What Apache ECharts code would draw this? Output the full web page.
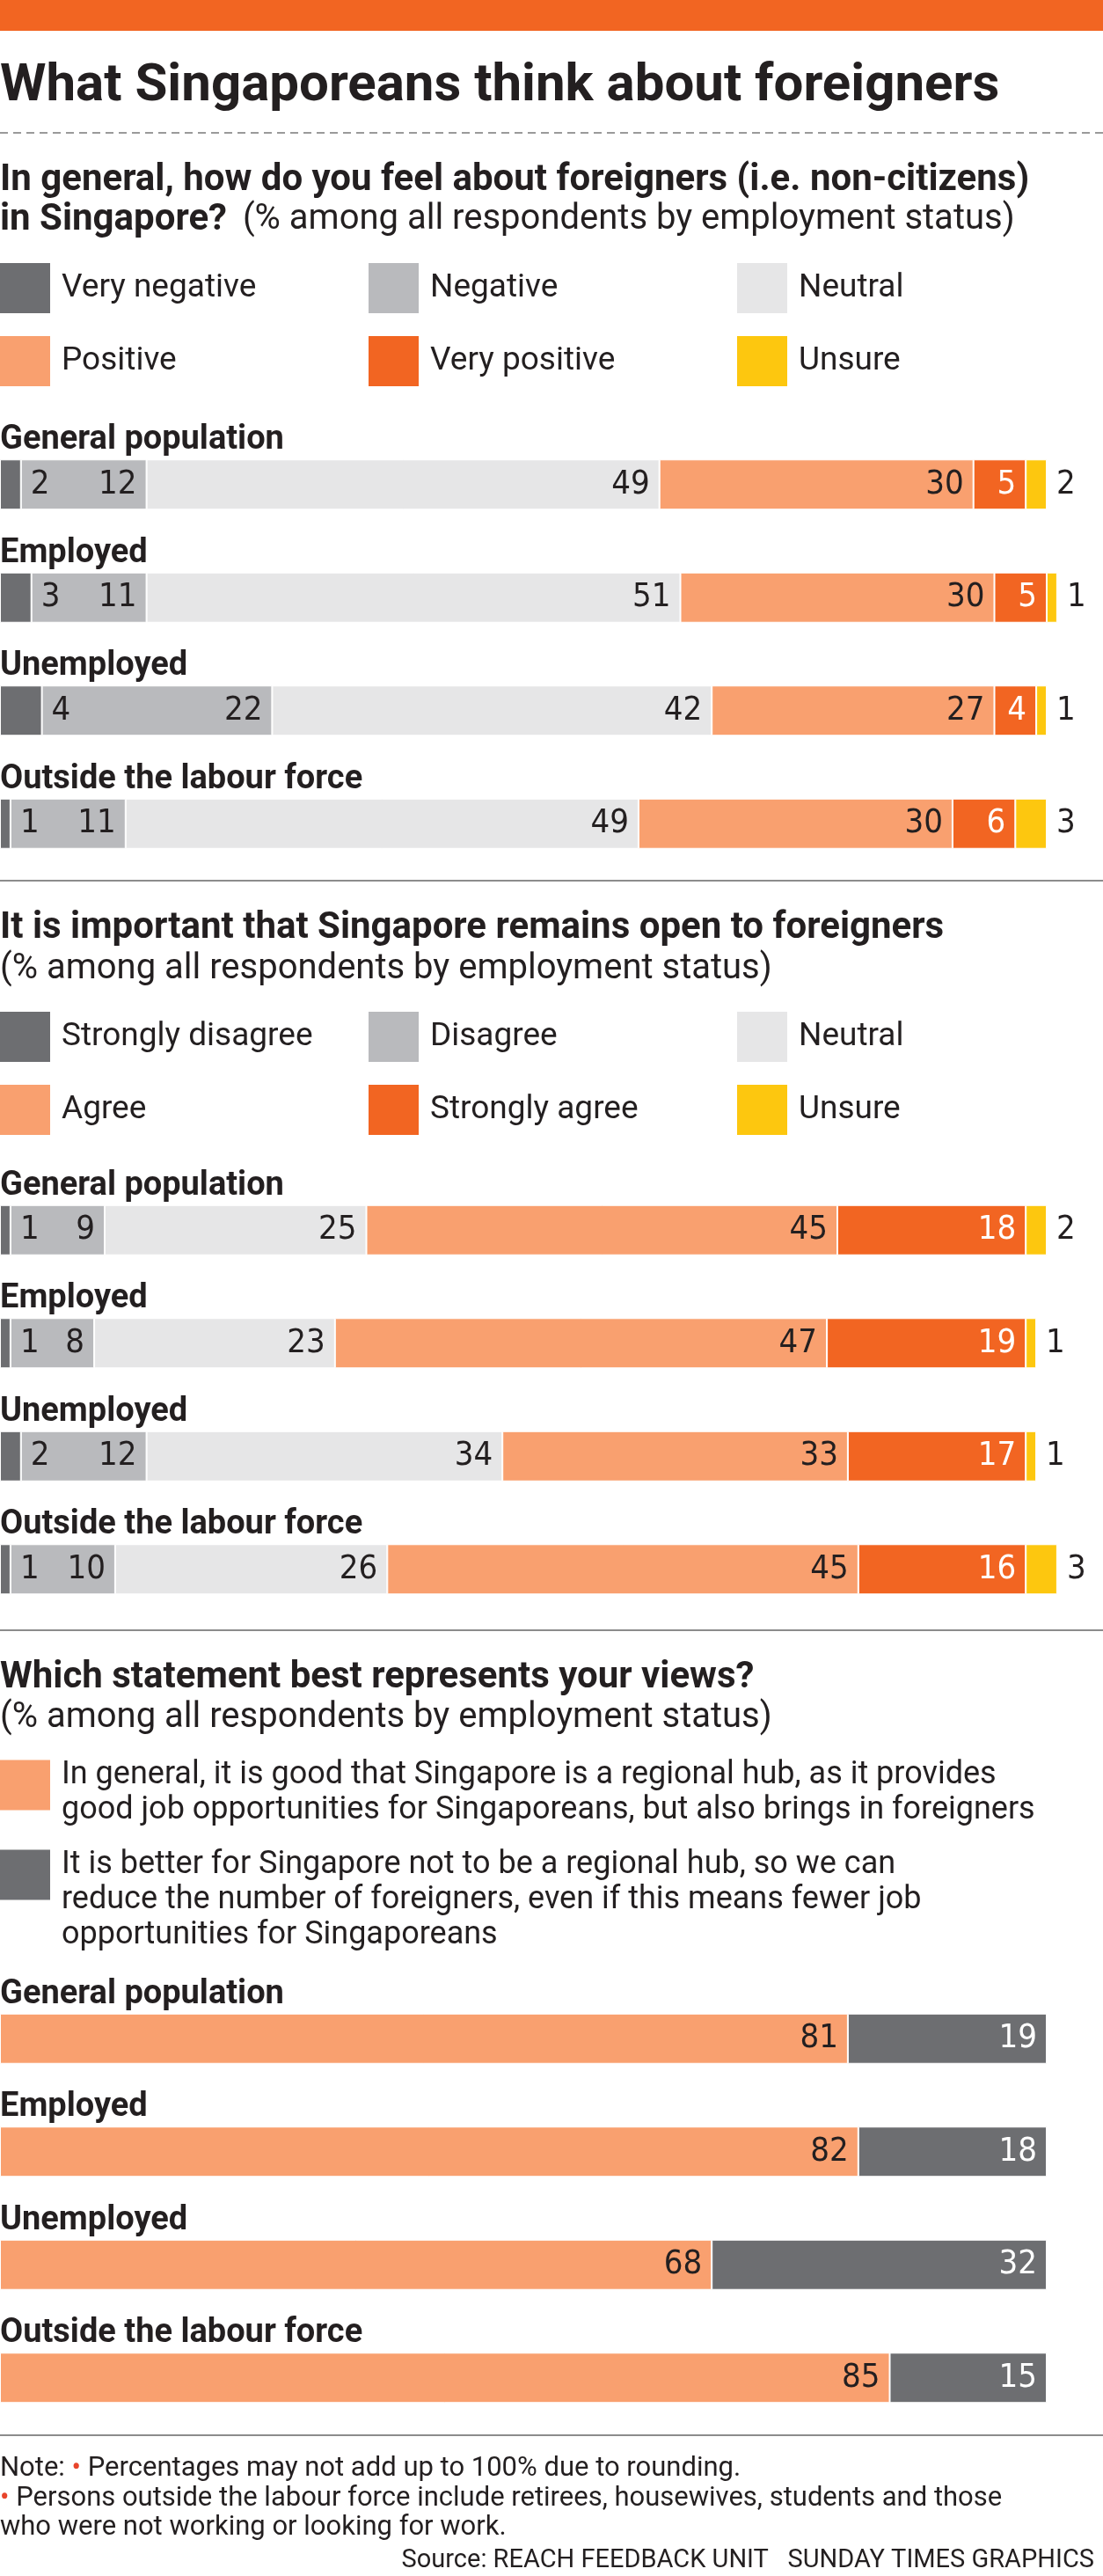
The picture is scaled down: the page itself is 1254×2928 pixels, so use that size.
<!DOCTYPE html>
<html><head><meta charset="utf-8">
<script src="https://cdn.jsdelivr.net/npm/echarts@6/dist/echarts.min.js"></script>
<style>html,body{margin:0;padding:0;background:#fff}#c{width:1254px;height:2928px}</style>
</head><body><div id="c"></div>
<script>
// ---------- DATA ----------
const categories = ['General population', 'Employed', 'Unemployed', 'Outside the labour force'];

const q1Names = ['Very negative', 'Negative', 'Neutral', 'Positive', 'Very positive', 'Unsure'];
const q1VeryNegative = [2, 3, 4, 1];
const q1Negative     = [12, 11, 22, 11];
const q1Neutral      = [49, 51, 42, 49];
const q1Positive     = [30, 30, 27, 30];
const q1VeryPositive = [5, 5, 4, 6];
const q1Unsure       = [2, 1, 1, 3];

const q2Names = ['Strongly disagree', 'Disagree', 'Neutral', 'Agree', 'Strongly agree', 'Unsure'];
const q2StronglyDisagree = [1, 1, 2, 1];
const q2Disagree         = [9, 8, 12, 10];
const q2Neutral          = [25, 23, 34, 26];
const q2Agree            = [45, 47, 33, 45];
const q2StronglyAgree    = [18, 19, 17, 16];
const q2Unsure           = [2, 1, 1, 3];

const q3Names = [
  'In general, it is good that Singapore is a regional hub, as it provides\ngood job opportunities for Singaporeans, but also brings in foreigners',
  'It is better for Singapore not to be a regional hub, so we can\nreduce the number of foreigners, even if this means fewer job\nopportunities for Singaporeans'
];
const q3RegionalHub    = [81, 82, 68, 85];
const q3NotRegionalHub = [19, 18, 32, 15];

// ---------- STYLE ----------
const FONT = 'Roboto, "Noto Sans", sans-serif';
const NUMFONT = '"Liberation Sans Narrow", "DejaVu Sans Condensed", Roboto, sans-serif';
const TEXT = '#231f20';
const C_DARK = '#6d6e71', C_GREY = '#b9babd', C_LIGHT = '#e6e6e7',
      C_SALMON = '#f9a06f', C_ORANGE = '#f26522', C_YELLOW = '#fdc70f';
const sixColors = [C_DARK, C_GREY, C_LIGHT, C_SALMON, C_ORANGE, C_YELLOW];
const sixPos = ['right', 'insideRight', 'insideRight', 'insideRight', 'insideRight', 'right'];
const sixLabelColor = [TEXT, TEXT, TEXT, TEXT, '#fff', TEXT];

function makeSeries(names, values, g, colors, pos, lcol) {
  return names.map((n, i) => ({
    name: n, type: 'bar', stack: 'stack' + g, xAxisIndex: g, yAxisIndex: g,
    barWidth: 57, data: values[i],
    itemStyle: { color: colors[i], borderColor: '#fff', borderWidth: 1 },
    label: { show: true, position: pos[i], distance: 11, color: lcol[i], fontSize: 38, fontFamily: NUMFONT },
    emphasis: { disabled: true }
  }));
}

const series = [].concat(
  makeSeries(q1Names, [q1VeryNegative, q1Negative, q1Neutral, q1Positive, q1VeryPositive, q1Unsure], 0, sixColors, sixPos, sixLabelColor),
  makeSeries(q2Names, [q2StronglyDisagree, q2Disagree, q2Neutral, q2Agree, q2StronglyAgree, q2Unsure], 1, sixColors, sixPos, sixLabelColor),
  makeSeries(q3Names, [q3RegionalHub, q3NotRegionalHub], 2, [C_SALMON, C_DARK], ['insideRight', 'insideRight'], [TEXT, '#fff'])
);

const XMAX = 101;
const gridTops = [486.5, 1334, 2253];
const grids = gridTops.map(t => ({ left: 0, width: 11.9 * XMAX, top: t, height: 514, outerBoundsMode: 'none' }));
const xAxes = gridTops.map((t, i) => ({ type: 'value', gridIndex: i, min: 0, max: XMAX, show: false }));
const yAxes = gridTops.map((t, i) => ({
  type: 'category', gridIndex: i, data: categories, inverse: true,
  axisLine: { show: false }, axisTick: { show: false }, splitLine: { show: false }, axisLabel: { show: false }
}));

const legendRich = {
  a: { fontSize: 37, color: TEXT, fontFamily: FONT, padding: [0, 0, 0, 8] },
  b: { fontSize: 36, lineHeight: 40, color: TEXT, fontFamily: FONT, padding: [0, 0, 0, 8] },
  sp1: { fontSize: 10, lineHeight: 17 },
  sp2: { fontSize: 10, lineHeight: 57 }
};
function legend(names, left, top, fmt) {
  return {
    data: names, left: left, top: top, orient: 'vertical', itemGap: 26, padding: 0,
    itemWidth: 57, itemHeight: 57, icon: 'rect', selectedMode: false,
    itemStyle: { borderWidth: 0 },
    formatter: fmt || (n => '{a|' + n + '}'),
    textStyle: { fontSize: 37, color: TEXT, fontFamily: FONT, rich: legendRich }
  };
}
function multiFmt(sp) {
  return n => '{' + sp + '| }\n' + n.split('\n').map(s => '{b|' + s + '}').join('\n');
}
const legends = [
  legend([q1Names[0], q1Names[3]], 0, 299),
  legend([q1Names[1], q1Names[4]], 419, 299),
  legend([q1Names[2], q1Names[5]], 838, 299),
  legend([q2Names[0], q2Names[3]], 0, 1150),
  legend([q2Names[1], q2Names[4]], 419, 1150),
  legend([q2Names[2], q2Names[5]], 838, 1150),
  legend([q3Names[0]], 0, 1984, multiFmt('sp1')),
  legend([q3Names[1]], 0, 2066, multiFmt('sp2'))
];

function txt(x, y, text, size, weight, align) {
  return { type: 'text', x: x, y: y, silent: true,
    style: { text: text, fontSize: size, fontWeight: weight || 'normal', fontFamily: FONT, fill: TEXT,
             verticalAlign: 'middle', align: align || 'left' } };
}
function hline(y, dashed) {
  return { type: 'line', silent: true, shape: { x1: 0, y1: y, x2: 1254, y2: y },
    style: { stroke: dashed ? '#9a9a9a' : '#8c8c8c', lineWidth: 2, lineDash: dashed ? [9, 6] : null } };
}
const noteRich = { t: { fontSize: 31, fontFamily: FONT, fill: TEXT }, d: { fontSize: 31, fontFamily: FONT, fill: '#e8452c' } };

const graphics = [
  { type: 'rect', silent: true, shape: { x: 0, y: 0, width: 1254, height: 35 }, style: { fill: C_ORANGE } },
  txt(0, 99, 'What Singaporeans think about foreigners', 60, 'bold'),
  hline(151, true),
  txt(0, 205, 'In general, how do you feel about foreigners (i.e. non-citizens)', 42, 'bold'),
  { type: 'text', x: 0, y: 250, silent: true, style: {
      text: '{b|in Singapore?}{r| (% among all respondents by employment status)}',
      verticalAlign: 'middle', align: 'left', fill: TEXT,
      rich: { b: { fontSize: 42, fontWeight: 'bold', fontFamily: FONT, fill: TEXT, padding: [0, 8, 0, 0] },
              r: { fontSize: 40, fontWeight: 'normal', fontFamily: FONT, fill: TEXT } } } },
  hline(1001, false),
  txt(0, 1055, 'It is important that Singapore remains open to foreigners', 42, 'bold'),
  txt(0, 1102, '(% among all respondents by employment status)', 40, 'normal'),
  hline(1853, false),
  txt(0, 1907, 'Which statement best represents your views?', 42, 'bold'),
  txt(0, 1953, '(% among all respondents by employment status)', 40, 'normal'),
  hline(2768, false),
  { type: 'text', x: 0, y: 2806, silent: true, style: {
      text: '{t|Note: }{d|•}{t| Percentages may not add up to 100% due to rounding.}',
      verticalAlign: 'middle', align: 'left', rich: noteRich } },
  { type: 'text', x: 0, y: 2840, silent: true, style: {
      text: '{d|•}{t| Persons outside the labour force include retirees, housewives, students and those}',
      verticalAlign: 'middle', align: 'left', rich: noteRich } },
  txt(0, 2873, 'who were not working or looking for work.', 31, 'normal'),
  txt(1244, 2911, 'Source: REACH FEEDBACK UNIT   SUNDAY TIMES GRAPHICS', 29, 'normal', 'right')
];

const chart = echarts.init(document.getElementById('c'), null, { renderer: 'canvas' });
chart.setOption({
  animation: false,
  backgroundColor: '#fff',
  textStyle: { fontFamily: FONT },
  grid: grids, xAxis: xAxes, yAxis: yAxes,
  legend: legends,
  series: series
});

// Category names above each bar, positioned through the category axes
const catLabels = [];
gridTops.forEach((t, g) => {
  categories.forEach(c => {
    const y = chart.convertToPixel({ yAxisIndex: g }, c);
    catLabels.push(txt(0, y - 50, c, 38, 'bold'));
  });
});
chart.setOption({ graphic: { elements: graphics.concat(catLabels) } });
</script></body></html>
